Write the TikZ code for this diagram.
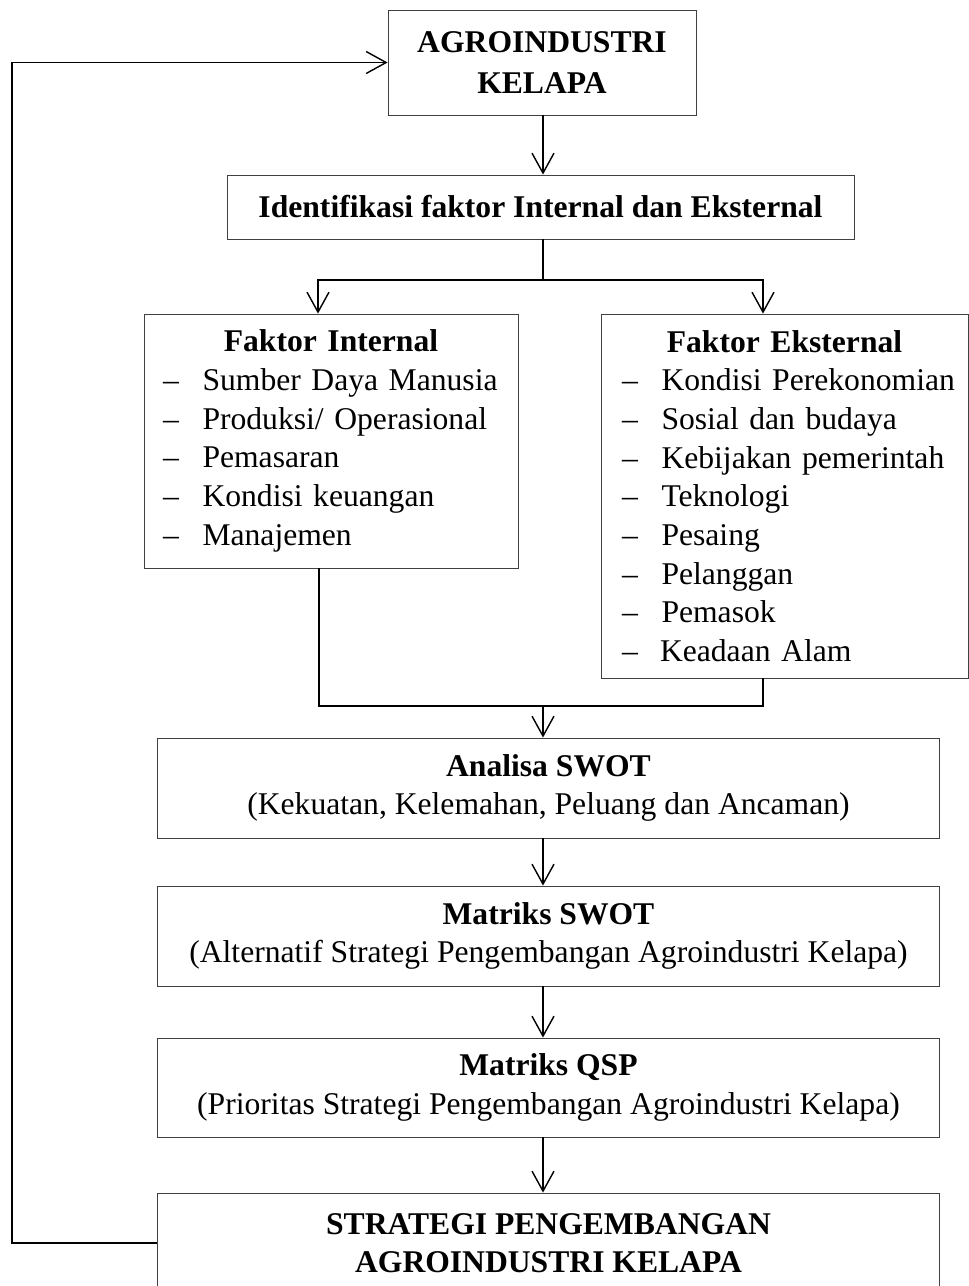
\documentclass[tikz,border=0pt]{standalone}
\usepackage{fontspec}
\setmainfont{Liberation Serif}
\usetikzlibrary{arrows.meta}

\newcommand{\faktoritem}[1]{\mbox{\makebox[0.79cm][l]{--}#1}\\}

\begin{document}
\begin{tikzpicture}[x=0.02cm,y=-0.02cm,
    every node/.style={font=\fontsize{18}{22}\selectfont},
    box/.style={draw=black!75, line width=0.5pt, rectangle, align=center},
    listbox/.style={draw=black!75, line width=0.5pt, rectangle, align=left},
    arr/.style={-{Straight Barb[length=0.4cm,width=0.44cm]}, line width=0.8pt},
    link/.style={line width=0.8pt}]
    \useasboundingbox (0,0) rectangle (969,1286);
    \clip (0,0) rectangle (969,1286);

    % Boxes
    \node[box, minimum width=6.16cm, minimum height=2.1cm] (agro) at (542,62.5)
        {\textbf{AGROINDUSTRI}\\[1pt]\textbf{KELAPA}};
    \node[box, minimum width=12.54cm, minimum height=1.28cm] (ident) at (540.5,207)
        {\textbf{Identifikasi faktor Internal dan Eksternal}};
    \node[listbox, minimum width=7.48cm, minimum height=5.08cm, inner xsep=0.38cm, text width=6.72cm] (intern) at (331,441)
        {\makebox[\linewidth]{\textbf{Faktor Internal}}\\
         \faktoritem{Sumber Daya Manusia}
         \faktoritem{Produksi/ Operasional}
         \faktoritem{Pemasaran}
         \faktoritem{Kondisi keuangan}
         \mbox{\makebox[0.79cm][l]{--}Manajemen}};
    \node[listbox, minimum width=7.34cm, minimum height=7.28cm, inner xsep=0.42cm, text width=6.5cm] (ekstern) at (784.5,496)
        {\makebox[\linewidth]{\textbf{Faktor Eksternal}}\\
         \faktoritem{Kondisi Perekonomian}
         \faktoritem{Sosial dan budaya}
         \faktoritem{Kebijakan pemerintah}
         \faktoritem{Teknologi}
         \faktoritem{Pesaing}
         \faktoritem{Pelanggan}
         \faktoritem{Pemasok}
         \mbox{\makebox[0.76cm][l]{--}Keadaan Alam}};
    \node[box, minimum width=15.66cm, minimum height=2cm] (swot) at (548.5,788)
        {\textbf{Analisa SWOT}\\(Kekuatan, Kelemahan, Peluang dan Ancaman)};
    \node[box, minimum width=15.66cm, minimum height=2cm] (mswot) at (548.5,936)
        {\textbf{Matriks SWOT}\\(Alternatif Strategi Pengembangan Agroindustri Kelapa)};
    \node[box, minimum width=15.66cm, minimum height=1.98cm] (qsp) at (548.5,1087.5)
        {\textbf{Matriks QSP}\\(Prioritas Strategi Pengembangan Agroindustri Kelapa)};
    \node[box, minimum width=15.66cm, minimum height=2cm] (strat) at (548.5,1243)
        {\textbf{STRATEGI PENGEMBANGAN}\\\textbf{AGROINDUSTRI KELAPA}};

    % junction points
    \coordinate (split) at (543,280);
    \coordinate (merge) at (543,706);
    \coordinate (loop) at (12,1243);

    % Arrows
    \draw[arr] (agro.south -| split) -- (ident.north -| split);
    \draw[link] (ident.south -| split) -- (split);
    \draw[arr] (split) -| ([xshift=-0.26cm]intern.north);
    \draw[arr] (split) -| ([xshift=-0.43cm]ekstern.north);
    \draw[link] ([xshift=-0.24cm]intern.south) |- (merge);
    \draw[link] ([xshift=-0.43cm]ekstern.south) |- (merge);
    \draw[arr] (merge) -- (swot.north -| merge);
    \draw[arr] (swot.south -| merge) -- (mswot.north -| merge);
    \draw[arr] (mswot.south -| merge) -- (qsp.north -| merge);
    \draw[arr] (qsp.south -| merge) -- (strat.north -| merge);

    % feedback line
    \draw[arr] (strat.west) -- (loop) |- (agro.west);

\end{tikzpicture}
\end{document}
